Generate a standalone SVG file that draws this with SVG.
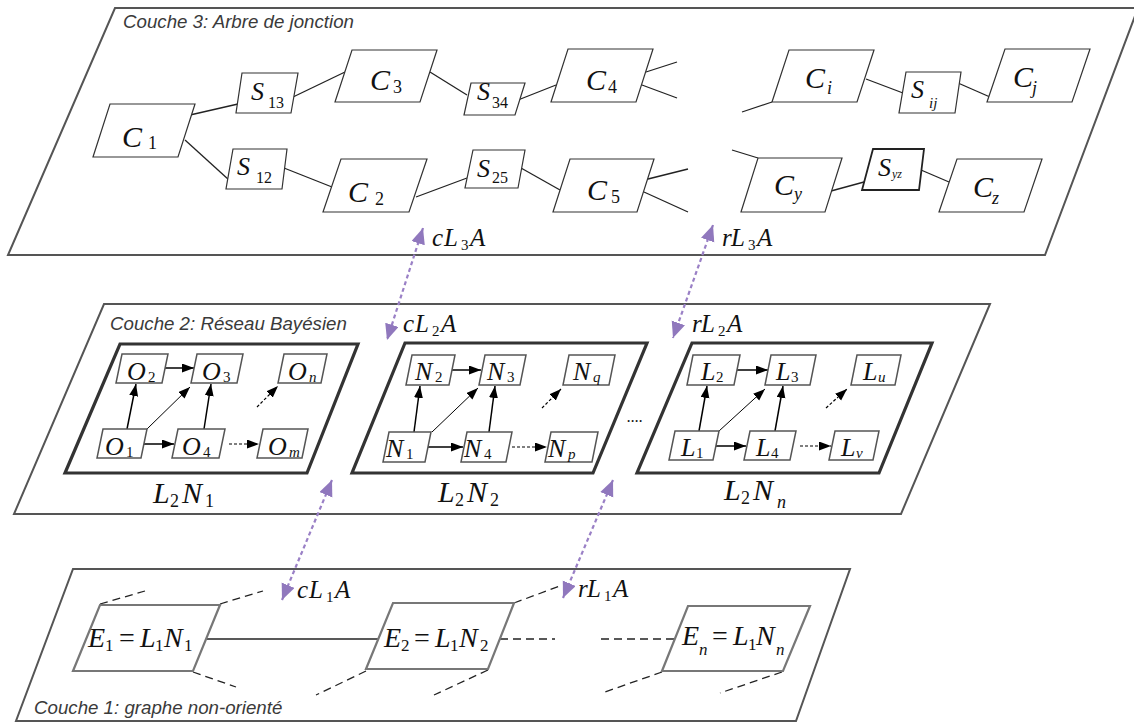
<svg xmlns="http://www.w3.org/2000/svg" width="1134" height="725" viewBox="0 0 1134 725">
<style>
.frame{fill:#fff;stroke:#555;stroke-width:2}
.box{fill:#fff;stroke:#333;stroke-width:1.2}
.boxb{fill:#fff;stroke:#222;stroke-width:1.8}
.bn{fill:none;stroke:#333;stroke-width:3.2}
.nb{fill:#fff;stroke:#555;stroke-width:1.5}
.eb{fill:#fff;stroke:#777;stroke-width:2.2}
.ln{stroke:#222;stroke-width:1.3;fill:none}
.dl{stroke:#222;stroke-width:1.3;fill:none;stroke-dasharray:8,5}
.ar{stroke:#000;stroke-width:1.5;fill:none;marker-end:url(#ah)}
.art{stroke:#000;stroke-width:1;fill:none;marker-end:url(#ah)}
.ad{stroke:#000;stroke-width:1.2;fill:none;stroke-dasharray:3,2;marker-end:url(#ah)}
.pu{stroke:#9a80c6;stroke-width:2.2;fill:none;stroke-dasharray:4,3;marker-start:url(#ph);marker-end:url(#ph)}
.t{font-family:"Liberation Sans",Arial,sans-serif;font-style:italic;font-size:18.7px;fill:#3a3a3a}
.m{font-family:"Liberation Serif","Times New Roman",serif;font-style:italic;fill:#111}
.c{font-size:30px}
.s{font-size:26px}
.o{font-size:26px}
.e{font-size:28px}
.ln2{font-size:30px}
.r{font-style:normal}
.s18{font-size:18px}
.s17{font-size:17px}
.s16{font-size:16px}
.s15{font-size:15px}
.s14{font-size:15px}
.s12{font-size:12px}
</style>
<defs>
<marker id="ah" markerUnits="userSpaceOnUse" markerWidth="14" markerHeight="12" refX="12" refY="4.5" orient="auto"><path d="M0,0 L12,4.5 L0,9 z" fill="#000"/></marker>
<marker id="ph" markerUnits="userSpaceOnUse" markerWidth="18" markerHeight="15" refX="16" refY="7" orient="auto-start-reverse"><path d="M0,0 L16,7 L0,14 z" fill="#9078bd"/></marker>
</defs>

<!-- Layer frames -->
<g id="layer3">
<polygon class="frame" points="115,8 1138,8 1045,255 8,255"/>
<text class="t" x="123" y="28">Couche 3: Arbre de jonction</text>
</g>
<g id="layer2">
<polygon class="frame" points="104,304 990,304 901,514 14,514"/>
<text class="t" x="110" y="330">Couche 2: Réseau Bayésien</text>
<polygon id="L2N1-frame" class="bn" points="120,344 358,344 307,473 65,473"/>
<polygon id="L2N2-frame" class="bn" points="405,343 647,343 593,473 352,473"/>
<polygon id="L2Nn-frame" class="bn" points="692,343 932,343 879,473 637,473"/>
</g>
<g id="layer1">
<polygon class="frame" points="73,569 850,569 796,721 16,721"/>
<text class="t" x="34" y="714">Couche 1: graphe non-orienté</text>
</g>

<!-- Connectors -->
<g id="connectors">
<!-- layer 3 -->
<line class="ln" x1="190" y1="115" x2="238" y2="104"/>
<line class="ln" x1="185" y1="140" x2="229" y2="180"/>
<line class="ln" x1="293" y1="97" x2="345" y2="72"/>
<line class="ln" x1="430" y1="72" x2="467" y2="95"/>
<line class="ln" x1="518" y1="100" x2="556" y2="85"/>
<line class="ln" x1="284" y1="168" x2="332" y2="187"/>
<line class="ln" x1="416" y1="197" x2="467" y2="178"/>
<line class="ln" x1="521" y1="168" x2="560" y2="190"/>
<line class="ln" x1="646" y1="72" x2="677" y2="62"/>
<line class="ln" x1="642" y1="85" x2="677" y2="98"/>
<line class="ln" x1="648" y1="179" x2="688" y2="169"/>
<line class="ln" x1="644" y1="192" x2="688" y2="212"/>
<line class="ln" x1="772" y1="102" x2="742" y2="112"/>
<line class="ln" x1="866" y1="79" x2="903" y2="93"/>
<line class="ln" x1="958" y1="83" x2="990" y2="97"/>
<line class="ln" x1="732" y1="150" x2="758" y2="158"/>
<line class="ln" x1="831" y1="191" x2="864" y2="182"/>
<line class="ln" x1="921" y1="170" x2="949" y2="182"/>
<!-- layer 2: L2N1 -->
<line class="ar" x1="165" y1="368" x2="194" y2="368"/>
<line class="ar" x1="127" y1="429" x2="136" y2="384"/>
<line class="art" x1="147" y1="429" x2="190" y2="387"/>
<line class="ar" x1="204" y1="429" x2="211" y2="384"/>
<line class="ar" x1="143" y1="444" x2="174" y2="444"/>
<line class="ad" x1="229" y1="444" x2="259" y2="444"/>
<line class="ad" x1="257" y1="407" x2="278" y2="386"/>
<!-- L2N2 -->
<line class="ar" x1="451" y1="370" x2="481" y2="370"/>
<line class="ar" x1="414" y1="432" x2="420" y2="386"/>
<line class="art" x1="432" y1="432" x2="478" y2="388"/>
<line class="ar" x1="489" y1="432" x2="495" y2="386"/>
<line class="ar" x1="428" y1="447" x2="463" y2="447"/>
<line class="ad" x1="512" y1="447" x2="547" y2="447"/>
<line class="ad" x1="542" y1="408" x2="561" y2="389"/>
<!-- L2Nn -->
<line class="ar" x1="737" y1="370" x2="768" y2="370"/>
<line class="ar" x1="699" y1="431" x2="707" y2="386"/>
<line class="art" x1="719" y1="431" x2="765" y2="389"/>
<line class="ar" x1="775" y1="431" x2="783" y2="386"/>
<line class="ar" x1="716" y1="446" x2="746" y2="446"/>
<line class="ad" x1="800" y1="446" x2="831" y2="446"/>
<line class="ad" x1="826" y1="408" x2="847" y2="389"/>
<!-- layer 1 -->
<line class="ln" x1="207" y1="639" x2="378" y2="639"/>
<line class="dl" x1="500" y1="639" x2="555" y2="639"/>
<line class="dl" x1="601" y1="639" x2="676" y2="639"/>
<line class="dl" x1="100" y1="604" x2="145" y2="591"/>
<line class="dl" x1="220" y1="604" x2="263" y2="591"/>
<line class="dl" x1="193" y1="672" x2="236" y2="687"/>
<line class="dl" x1="366" y1="671" x2="316" y2="695"/>
<line class="dl" x1="488" y1="670" x2="434" y2="695"/>
<line class="dl" x1="514" y1="603" x2="560" y2="586"/>
<line class="dl" x1="662" y1="672" x2="602" y2="693"/>
<line class="dl" x1="782" y1="672" x2="720" y2="693"/>
<!-- inter-layer -->
<line class="pu" x1="423" y1="228" x2="387" y2="340"/>
<line class="pu" x1="713" y1="225" x2="673" y2="338"/>
<line class="pu" x1="332" y1="480" x2="282" y2="600"/>
<line class="pu" x1="613" y1="480" x2="563" y2="598"/>
</g>

<!-- Layer 3 nodes -->
<g id="C1"><polygon class="box" points="110,104 195,104 178,157 93,157"/><text class="m c" x="122" y="147">C<tspan class="r s18" x="148" y="149">1</tspan></text></g>
<g id="S13"><polygon class="box" points="242,73 298,73 291,113 236,113"/><text class="m s" x="251" y="100">S<tspan class="r s16" x="268" y="108">13</tspan></text></g>
<g id="S12"><polygon class="box" points="233,149 287,149 282,189 226,189"/><text class="m s" x="237" y="175">S<tspan class="r s16" x="256" y="183">12</tspan></text></g>
<g id="C3"><polygon class="box" points="352,50 437,50 420,102 335,102"/><text class="m c" x="370" y="90">C<tspan class="r s18" x="393" y="93">3</tspan></text></g>
<g id="C2"><polygon class="box" points="341,159 427,159 409,212 323,212"/><text class="m c" x="348" y="202">C<tspan class="r s18" x="375" y="205">2</tspan></text></g>
<g id="S34"><polygon class="box" points="471,83 525,83 515,115 464,115"/><text class="m s" x="477" y="100">S<tspan class="r s16" x="492" y="108">34</tspan></text></g>
<g id="S25"><polygon class="box" points="473,150 525,150 518,188 465,188"/><text class="m s" x="477" y="177">S<tspan class="r s16" x="492" y="183">25</tspan></text></g>
<g id="C4"><polygon class="box" points="568,49 653,49 636,102 551,102"/><text class="m c" x="586" y="90">C<tspan class="r s18" x="608" y="93">4</tspan></text></g>
<g id="C5"><polygon class="box" points="570,159 654,159 637,212 553,212"/><text class="m c" x="587" y="200">C<tspan class="r s18" x="611" y="203">5</tspan></text></g>
<g id="Ci"><polygon class="box" points="789,50 874,50 857,102 772,102"/><text class="m c" x="805" y="88">C<tspan class="s18" x="827" y="94">i</tspan></text></g>
<g id="Sij"><polygon class="box" points="906,72 961,72 955,113 899,113"/><text class="m s" x="911" y="98">S<tspan class="s14" x="929" y="108">ij</tspan></text></g>
<g id="Cj"><polygon class="box" points="1005,49 1090,49 1072,102 987,102"/><text class="m c" x="1013" y="87">C<tspan class="s18" x="1032" y="94">j</tspan></text></g>
<g id="Cy"><polygon class="box" points="758,158 842,158 825,212 741,212"/><text class="m c" x="774" y="195">C<tspan class="s18" x="794" y="200">y</tspan></text></g>
<g id="Syz"><polygon class="boxb" points="873,149 924,149 919,190 862,190"/><text class="m s" x="878" y="176">S<tspan class="s12" x="892" y="178">yz</tspan></text></g>
<g id="Cz"><polygon class="box" points="957,159 1042,159 1024,212 939,212"/><text class="m c" x="973" y="197">C<tspan class="s18" x="992" y="204">z</tspan></text></g>

<!-- Layer 2 nodes -->
<g id="L2N1">
<g id="O2"><polygon class="nb" points="122,354 168,354 162,383 116,383"/><text class="m o" x="127" y="380">O<tspan class="r s14" x="148" y="382">2</tspan></text></g>
<g id="O3"><polygon class="nb" points="197,354 243,354 237,383 191,383"/><text class="m o" x="202" y="380">O<tspan class="r s14" x="223" y="382">3</tspan></text></g>
<g id="On"><polygon class="nb" points="284,354 327,354 321,383 278,383"/><text class="m o" x="288" y="380">O<tspan class="s14" x="309" y="382">n</tspan></text></g>
<g id="O1"><polygon class="nb" points="103,429 147,429 141,458 97,458"/><text class="m o" x="105" y="455">O<tspan class="r s14" x="126" y="457">1</tspan></text></g>
<g id="O4"><polygon class="nb" points="178,429 225,429 219,458 172,458"/><text class="m o" x="182" y="455">O<tspan class="r s14" x="203" y="457">4</tspan></text></g>
<g id="Om"><polygon class="nb" points="263,429 308,429 302,458 257,458"/><text class="m o" x="268" y="455">O<tspan class="s14" x="289" y="457">m</tspan></text></g>
<text class="m ln2" x="153" y="503">L<tspan class="r s18" x="170" y="507">2</tspan><tspan x="182" y="503">N</tspan><tspan class="r s18" x="205" y="507">1</tspan></text>
</g>
<g id="L2N2">
<g id="N2"><polygon class="nb" points="412,355 455,355 449,385 406,385"/><text class="m o" x="415" y="380">N<tspan class="r s14" x="435" y="382">2</tspan></text></g>
<g id="N3"><polygon class="nb" points="485,355 526,355 520,385 479,385"/><text class="m o" x="487" y="380">N<tspan class="r s14" x="507" y="382">3</tspan></text></g>
<g id="Nq"><polygon class="nb" points="569,355 615,355 609,385 563,385"/><text class="m o" x="573" y="380">N<tspan class="s14" x="593" y="382">q</tspan></text></g>
<g id="N1"><polygon class="nb" points="389,432 431,432 425,462 383,462"/><text class="m o" x="386" y="457">N<tspan class="r s14" x="406" y="459">1</tspan></text></g>
<g id="N4"><polygon class="nb" points="467,432 512,432 506,462 461,462"/><text class="m o" x="464" y="457">N<tspan class="r s14" x="484" y="459">4</tspan></text></g>
<g id="Np"><polygon class="nb" points="551,432 598,432 592,462 545,462"/><text class="m o" x="548" y="457">N<tspan class="s14" x="568" y="459">p</tspan></text></g>
<text class="m ln2" x="438" y="502">L<tspan class="r s18" x="455" y="506">2</tspan><tspan x="467" y="502">N</tspan><tspan class="r s18" x="490" y="506">2</tspan></text>
</g>
<text class="m" x="627" y="422" font-size="16" font-style="normal">....</text>
<g id="L2Nn">
<g id="L2"><polygon class="nb" points="693,355 740,355 734,385 687,385"/><text class="m o" x="701" y="380">L<tspan class="r s14" x="716" y="382">2</tspan></text></g>
<g id="L3"><polygon class="nb" points="771,355 816,355 810,385 765,385"/><text class="m o" x="776" y="380">L<tspan class="r s14" x="791" y="382">3</tspan></text></g>
<g id="Lu"><polygon class="nb" points="857,355 901,355 895,385 851,385"/><text class="m o" x="863" y="380">L<tspan class="s14" x="878" y="382">u</tspan></text></g>
<g id="L1"><polygon class="nb" points="675,431 719,431 713,460 669,460"/><text class="m o" x="681" y="456">L<tspan class="r s14" x="696" y="458">1</tspan></text></g>
<g id="L4"><polygon class="nb" points="750,431 796,431 790,460 744,460"/><text class="m o" x="756" y="456">L<tspan class="r s14" x="771" y="458">4</tspan></text></g>
<g id="Lv"><polygon class="nb" points="835,431 879,431 873,460 829,460"/><text class="m o" x="841" y="456">L<tspan class="s14" x="856" y="458">v</tspan></text></g>
<text class="m ln2" x="724" y="500">L<tspan class="r s18" x="741" y="504">2</tspan><tspan x="753" y="500">N</tspan><tspan class="s18" x="777" y="508">n</tspan></text>
</g>

<!-- Layer 1 nodes -->
<g id="E1"><polygon class="eb" points="100,605 220,605 193,671 73,671"/><text class="m e" x="88" y="647">E<tspan class="r s17" x="105" y="651">1</tspan><tspan class="r" x="119" y="647">=</tspan><tspan x="140" y="647">L</tspan><tspan class="r s17" x="155" y="651">1</tspan><tspan x="164" y="647">N</tspan><tspan class="r s17" x="184" y="651">1</tspan></text></g>
<g id="E2"><polygon class="eb" points="393,603 514,603 488,669 366,669"/><text class="m e" x="384" y="647">E<tspan class="r s17" x="401" y="651">2</tspan><tspan class="r" x="414" y="647">=</tspan><tspan x="435" y="647">L</tspan><tspan class="r s17" x="450" y="651">1</tspan><tspan x="459" y="647">N</tspan><tspan class="r s17" x="480" y="651">2</tspan></text></g>
<g id="En"><polygon class="eb" points="688,606 810,606 783,671 662,671"/><text class="m e" x="682" y="645">E<tspan class="s17" x="699" y="655">n</tspan><tspan class="r" x="712" y="645">=</tspan><tspan x="733" y="645">L</tspan><tspan class="r s17" x="748" y="650">1</tspan><tspan x="756" y="645">N</tspan><tspan class="s17" x="776" y="655">n</tspan></text></g>

<!-- inter-layer labels -->
<g id="labels">
<text class="m" font-size="25" x="432" y="246">c<tspan x="444">L</tspan><tspan class="r s15" x="461" y="250">3</tspan><tspan x="470" y="246">A</tspan></text>
<text class="m" font-size="25" x="722" y="246">r<tspan x="731">L</tspan><tspan class="r s15" x="748" y="250">3</tspan><tspan x="757" y="246">A</tspan></text>
<text class="m" font-size="25" x="403" y="332">c<tspan x="415">L</tspan><tspan class="r s15" x="432" y="336">2</tspan><tspan x="441" y="332">A</tspan></text>
<text class="m" font-size="25" x="692" y="332">r<tspan x="701">L</tspan><tspan class="r s15" x="718" y="336">2</tspan><tspan x="727" y="332">A</tspan></text>
<text class="m" font-size="25" x="297" y="598">c<tspan x="309">L</tspan><tspan class="r s15" x="326" y="602">1</tspan><tspan x="335" y="598">A</tspan></text>
<text class="m" font-size="25" x="578" y="597">r<tspan x="587">L</tspan><tspan class="r s15" x="604" y="601">1</tspan><tspan x="613" y="597">A</tspan></text>
</g>
</svg>
